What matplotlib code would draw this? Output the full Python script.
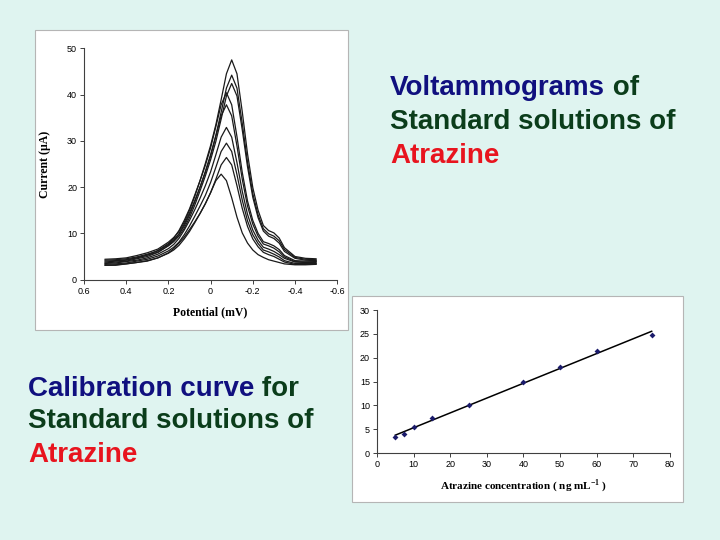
import numpy as np
import matplotlib.pyplot as plt
from matplotlib.patches import Rectangle

plt.rcParams["mathtext.fontset"] = "custom"
plt.rcParams["mathtext.rm"] = "Liberation Serif"
plt.rcParams["mathtext.bf"] = "Liberation Serif:bold"

# voltammograms (potential as labelled on the slide, current in uA)
potential = [0.50, 0.45, 0.40, 0.35, 0.30, 0.25, 0.20, 0.175, 0.15, 0.125,
             0.10, 0.075, 0.05, 0.025, 0.00, -0.025, -0.05, -0.075, -0.10,
             -0.125, -0.15, -0.175, -0.20, -0.225, -0.25, -0.275, -0.30,
             -0.325, -0.35, -0.40, -0.45, -0.50]

current_1 = [4.4, 4.5, 4.7, 5.2, 5.8, 6.6, 8.1, 9.1, 10.4, 12.4, 15.0, 18.0,
             21.4, 25.1, 29.0, 33.5, 38.9, 44.5, 47.5, 44.5, 36.3, 27.2, 19.9,
             15.0, 11.7, 10.6, 10.1, 9.0, 6.9, 5.0, 4.6, 4.5]
current_2 = [4.2, 4.3, 4.5, 4.9, 5.5, 6.2, 7.6, 8.6, 9.8, 11.6, 14.0, 16.8,
             20.0, 23.4, 27.0, 31.2, 36.2, 41.4, 44.2, 41.4, 33.8, 25.4, 18.6,
             14.0, 11.0, 9.9, 9.4, 8.4, 6.5, 4.8, 4.4, 4.3]
current_3 = [4.0, 4.1, 4.3, 4.7, 5.3, 5.9, 7.3, 8.2, 9.4, 11.1, 13.4, 16.1,
             19.2, 22.4, 25.9, 29.9, 34.7, 39.7, 42.4, 39.7, 32.4, 24.4, 17.8,
             13.4, 10.5, 9.4, 8.9, 7.9, 6.1, 4.6, 4.2, 4.1]
current_4 = [3.8, 4.0, 4.2, 4.7, 5.3, 6.3, 7.8, 8.9, 10.6, 12.8, 15.3, 18.3,
             21.4, 24.7, 28.5, 33.1, 37.8, 40.4, 37.8, 30.9, 23.2, 17.0, 12.8,
             10.0, 8.2, 7.8, 7.3, 6.5, 5.2, 4.1, 4.0, 4.0]
current_5 = [3.6, 3.8, 4.0, 4.5, 5.0, 5.9, 7.4, 8.4, 9.9, 12.0, 14.4, 17.1,
             20.0, 23.1, 26.7, 31.0, 35.4, 37.8, 35.4, 28.9, 21.7, 15.9, 12.0,
             9.4, 7.7, 7.3, 6.8, 6.0, 4.9, 3.9, 3.8, 3.9]
current_6 = [3.5, 3.6, 3.9, 4.2, 4.7, 5.5, 6.7, 7.6, 8.9, 10.7, 12.8, 15.1,
             17.6, 20.3, 23.3, 27.0, 30.8, 32.9, 30.8, 25.3, 19.1, 14.1, 10.7,
             8.5, 7.0, 6.6, 6.1, 5.4, 4.6, 3.8, 3.7, 3.7]
current_7 = [3.3, 3.4, 3.6, 4.0, 4.4, 5.1, 6.2, 7.0, 8.1, 9.7, 11.6, 13.7,
             15.9, 18.2, 21.0, 24.3, 27.7, 29.5, 27.7, 22.7, 17.2, 12.7, 9.7,
             7.8, 6.4, 6.0, 5.5, 4.9, 4.1, 3.5, 3.5, 3.5]
current_8 = [3.1, 3.2, 3.4, 3.7, 4.1, 4.7, 5.7, 6.4, 7.4, 8.8, 10.4, 12.3,
             14.3, 16.4, 18.8, 21.7, 24.8, 26.4, 24.8, 20.3, 15.4, 11.5, 8.8,
             7.1, 5.9, 5.4, 5.0, 4.4, 3.8, 3.3, 3.3, 3.4]
current_9 = [3.1, 3.1, 3.4, 3.7, 4.0, 4.7, 5.8, 6.7, 7.9, 9.2, 10.8, 12.5,
             14.3, 16.4, 18.8, 21.4, 22.8, 21.4, 17.7, 13.5, 10.1, 7.9, 6.4,
             5.4, 4.8, 4.3, 4.0, 3.7, 3.4, 3.2, 3.2, 3.3]

currents = [current_1, current_2, current_3, current_4, current_5,
            current_6, current_7, current_8, current_9]

# calibration
concentration = [5, 7.5, 10, 15, 25, 40, 50, 60, 75]
peak_current = [3.4, 4.0, 5.4, 7.3, 10.0, 15.0, 18.0, 21.3, 24.8]

pot_ticks = [0.6, 0.4, 0.2, 0, -0.2, -0.4, -0.6]
pot_labels = ["0.6", "0.4", "0.2", "0", "-0.2", "-0.4", "-0.6"]

bg = "#dff4f0"
navy = "#10107f"
green = "#0b3d1b"
red = "#e8141e"
axis_grey = "#404040"

fig = plt.figure(figsize=(7.2, 5.4), dpi=100)
fig.patch.set_facecolor(bg)

# white panels behind the two charts
for x0, y0, w, h in [(0.0486, 0.389, 0.4347, 0.5556), (0.4889, 0.0704, 0.4597, 0.3815)]:
    fig.add_artist(Rectangle((x0, y0), w, h, transform=fig.transFigure,
                             facecolor="white", edgecolor="#b5b5b5", lw=0.8, zorder=0))


def style_axes(ax):
    ax.set_facecolor("none")
    for side in ["top", "right"]:
        ax.spines[side].set_visible(False)
    for side in ["left", "bottom"]:
        ax.spines[side].set_color(axis_grey)
        ax.spines[side].set_linewidth(0.8)
    ax.tick_params(direction="out", length=3, width=0.7, color=axis_grey,
                   labelsize=6.5, pad=2)
    for lab in ax.get_xticklabels() + ax.get_yticklabels():
        lab.set_family("Liberation Sans")


# voltammograms
ax1 = fig.add_axes([0.1167, 0.4822, 0.3516, 0.4283])
for cur in currents:
    ax1.plot(potential, cur, color="#1a1a1a", lw=0.9)
ax1.set_xlim(0.6, -0.6)
ax1.set_ylim(0, 50)
ax1.set_xticks(pot_ticks)
ax1.set_xticklabels(pot_labels)
ax1.set_yticks(range(0, 51, 10))
style_axes(ax1)
ax1.set_ylabel("Current (\u00b5A)", family="Liberation Serif", fontweight="bold", fontsize=8.5)
ax1.set_xlabel("Potential (mV)", family="Liberation Serif", fontweight="bold", fontsize=8.5)
ax1.yaxis.set_label_coords(-0.13, 0.5)
ax1.xaxis.set_label_coords(0.5, -0.115)

# calibration curve
ax2 = fig.add_axes([0.5236, 0.1611, 0.4069, 0.2648])
slope, intercept = np.polyfit(concentration, peak_current, 1)
fit_x = np.array([concentration[0], concentration[-1]])
ax2.plot(fit_x, slope * fit_x + intercept, color="black", lw=1.1)
ax2.plot(concentration, peak_current, "D", color="#1b1b6b", ms=3, mew=0)
ax2.set_xlim(0, 80)
ax2.set_ylim(0, 30)
ax2.set_xticks(range(0, 81, 10))
ax2.set_yticks(range(0, 31, 5))
style_axes(ax2)
ax2.set_xlabel("Atrazine concentration ( ng mL$^{\\mathbf{-1}}$ )",
               family="Liberation Serif", fontweight="bold", fontsize=8)
ax2.xaxis.set_label_coords(0.5, -0.17)


# captions with differently coloured words
renderer = fig.canvas.get_renderer()


def caption_line(x, y, parts):
    for text, colour in parts:
        t = fig.text(x, y, text, color=colour, fontsize=20, fontweight="bold",
                     family="Liberation Sans", va="baseline", ha="left")
        x = t.get_window_extent(renderer).x1 / fig.bbox.width


x_top = 390 / 720
caption_line(x_top, 0.824, [("Voltammograms", navy), (" of", green)])
caption_line(x_top, 0.7606, [("Standard solutions of", green)])
caption_line(x_top, 0.6987, [("Atrazine", red)])

x_bot = 28 / 720
caption_line(x_bot, 0.2672, [("Calibration curve", navy), (" for", green)])
caption_line(x_bot, 0.2069, [("Standard solutions of", green)])
caption_line(x_bot, 0.145, [("Atrazine", red)])

fig.savefig("out.png", dpi=100, facecolor=bg)
